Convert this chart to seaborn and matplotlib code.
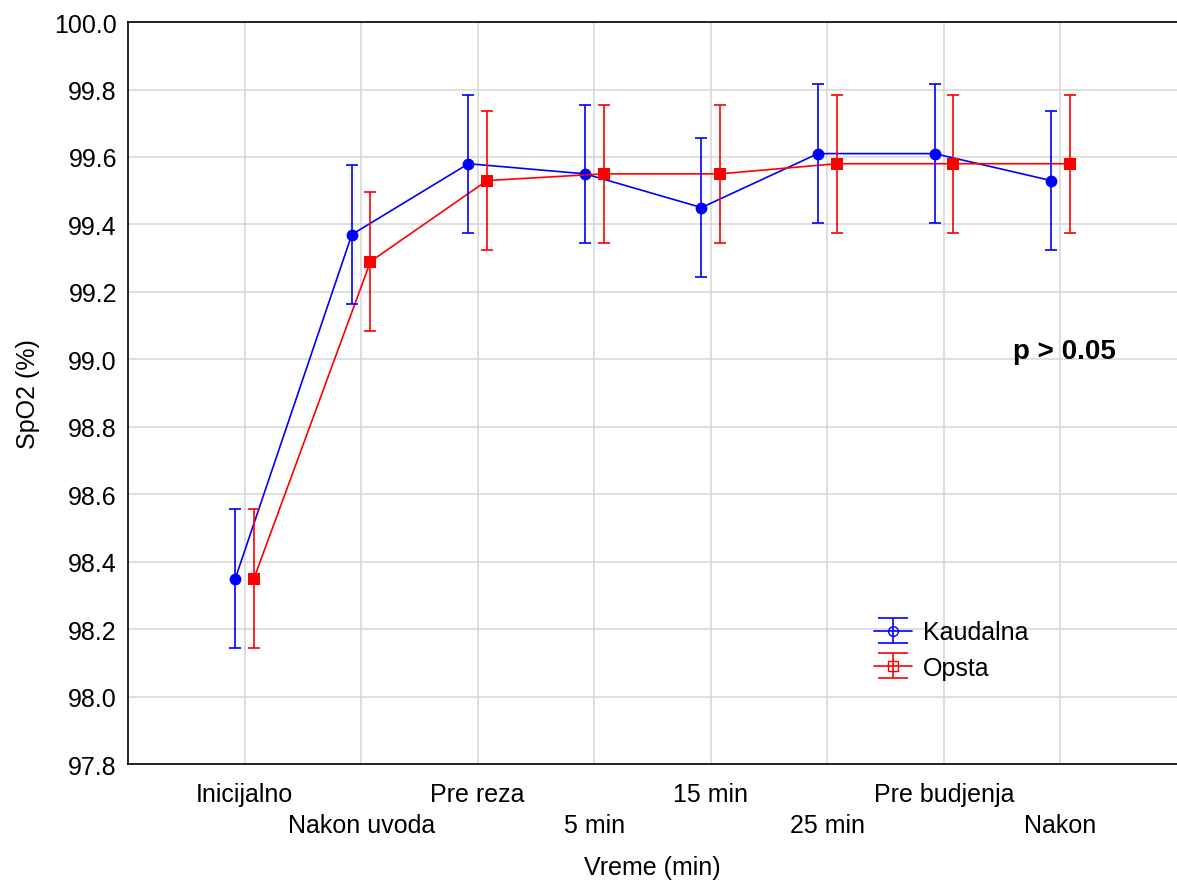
import numpy as np
import pandas as pd
import seaborn as sns
import matplotlib
matplotlib.use("Agg")
import matplotlib.pyplot as plt

categories = ["Inicijalno", "Nakon uvoda", "Pre reza", "5 min", "15 min",
              "25 min", "Pre budjenja", "Nakon"]
kaudalna_mean = [98.35, 99.37, 99.58, 99.55, 99.45, 99.61, 99.61, 99.53]
kaudalna_err = [0.205, 0.205, 0.205, 0.205, 0.205, 0.205, 0.205, 0.205]
opsta_mean = [98.35, 99.29, 99.53, 99.55, 99.55, 99.58, 99.58, 99.58]
opsta_err = [0.205, 0.205, 0.205, 0.205, 0.205, 0.205, 0.205, 0.205]
yticks = [97.8, 98.0, 98.2, 98.4, 98.6, 98.8, 99.0, 99.2, 99.4, 99.6, 99.8, 100.0]

sns.set_style("whitegrid")
plt.rcParams['font.family'] = ['Liberation Sans', 'DejaVu Sans']
plt.rcParams['text.color'] = 'black'
plt.rcParams['axes.labelcolor'] = 'black'

fig = plt.figure(figsize=(11.77, 8.87), dpi=100)
ax = fig.add_axes([0.1088, 0.1375, 0.8912, 0.8365])

pos = np.arange(len(categories))
off = 0.08
df = pd.concat([
    pd.DataFrame({"x": pos - off, "y": kaudalna_mean, "g": "Kaudalna"}),
    pd.DataFrame({"x": pos + off, "y": opsta_mean, "g": "Opsta"}),
])
palette = {"Kaudalna": "#0000ff", "Opsta": "#ff0000"}
sns.lineplot(data=df, x="x", y="y", hue="g", style="g", palette=palette,
             markers={"Kaudalna": "o", "Opsta": "s"}, dashes=False,
             markersize=8.5, markeredgewidth=0, linewidth=1.2, ax=ax, legend=False,
             zorder=3)
ax.errorbar(pos - off, kaudalna_mean, yerr=kaudalna_err, fmt="none",
            ecolor="#0000ff", elinewidth=1.2, capsize=4.2, capthick=1.2, zorder=3)
ax.errorbar(pos + off, opsta_mean, yerr=opsta_err, fmt="none",
            ecolor="#ff0000", elinewidth=1.2, capsize=4.2, capthick=1.2, zorder=3)

# legend proxies (NaN data -> nothing drawn)
h1 = ax.errorbar([np.nan], [np.nan], yerr=[np.nan], fmt="-o", color="#0000ff",
                 mfc="none", mec="#0000ff", ms=7, lw=1.2, capsize=11, capthick=1.2,
                 label="Kaudalna")
h2 = ax.errorbar([np.nan], [np.nan], yerr=[np.nan], fmt="-s", color="#ff0000",
                 mfc="none", mec="#ff0000", ms=7, lw=1.2, capsize=11, capthick=1.2,
                 label="Opsta")
leg = ax.legend(handles=[h1, h2], labels=["Kaudalna", "Opsta"], frameon=False,
                fontsize=18, loc="upper left", bbox_to_anchor=(0.69, 0.224),
                handlelength=1.5, handletextpad=0.45, labelspacing=0.45)

ax.set_xlim(-1, 8)
ax.set_ylim(97.8, 100.0)
ax.set_yticks(yticks)
ax.set_yticklabels([f"{v:.1f}" for v in yticks])
ax.set_xticks(pos)
ax.set_xticklabels([c if i % 2 == 0 else "\n" + c for i, c in enumerate(categories)],
                   linespacing=1.35)
ax.tick_params(axis="both", direction="in", length=5, width=1, colors="black",
               labelsize=18)
ax.tick_params(axis="x", pad=13)
ax.tick_params(axis="y", pad=8)
ax.grid(True, color="#d9d9d9", linewidth=1.2)
for s in ["left", "bottom", "top"]:
    ax.spines[s].set_color("black")
    ax.spines[s].set_linewidth(1.2)
ax.spines["right"].set_visible(False)

ax.set_xlabel("Vreme (min)", fontsize=18, labelpad=13)
ax.set_ylabel("SpO2 (%)", fontsize=18, labelpad=10)
ax.text(7.03, 99.025, "p > 0.05", fontsize=20, fontweight="bold", ha="center",
        va="center", color="black")

fig.savefig("out.png", dpi=100)
